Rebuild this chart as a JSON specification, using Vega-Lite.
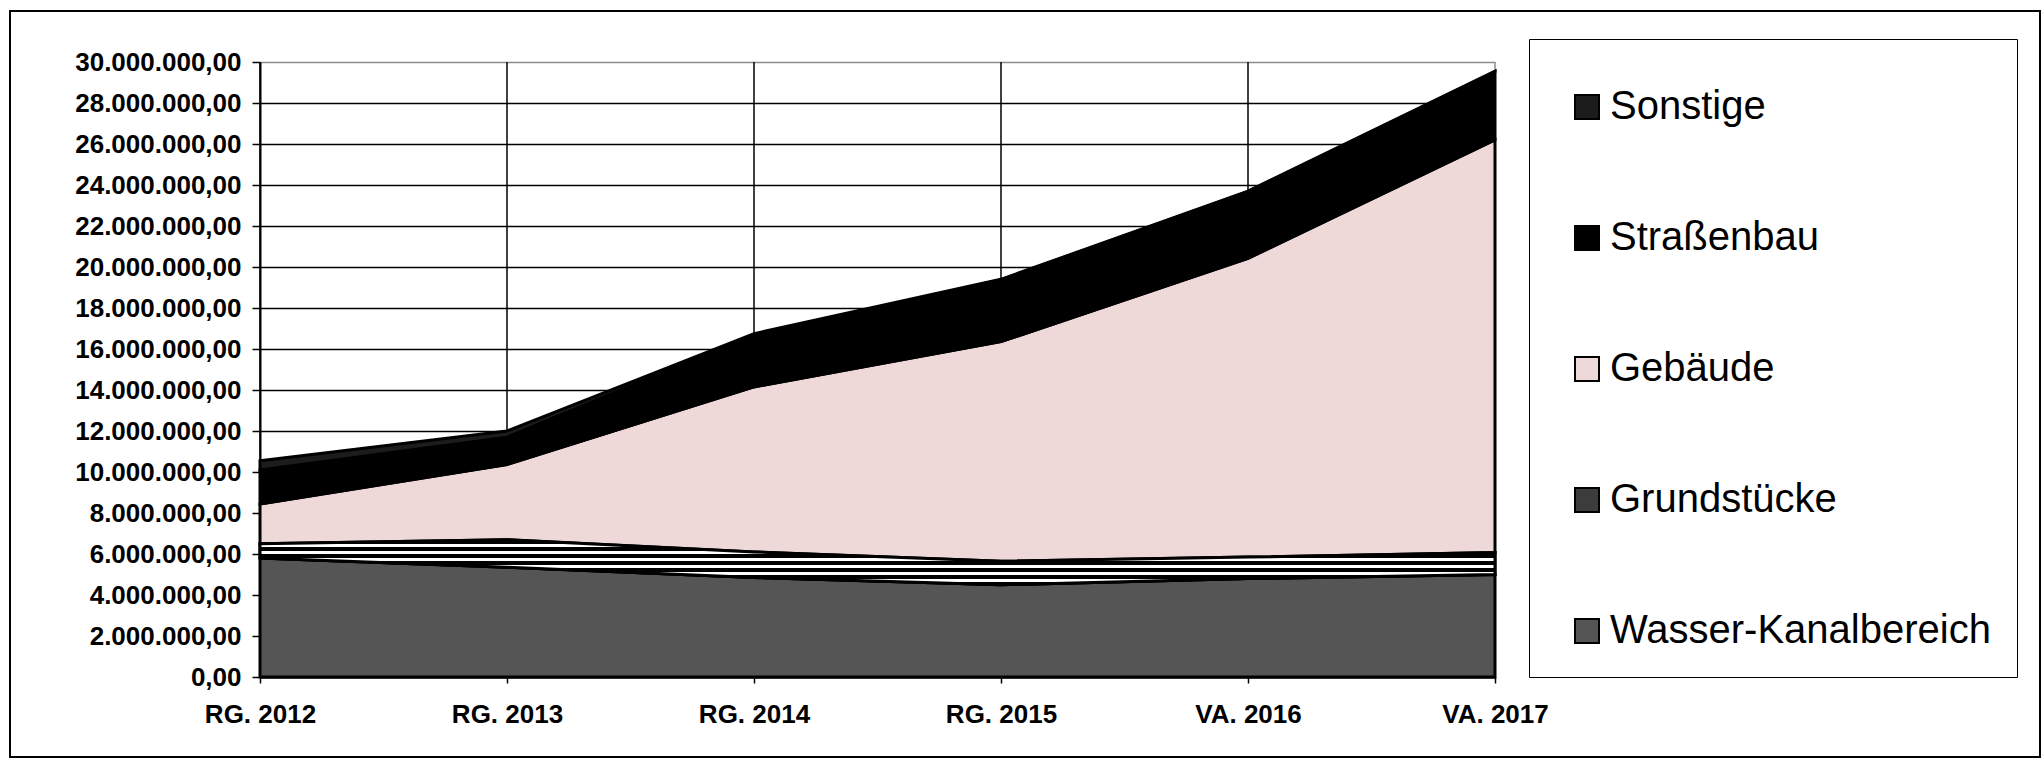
{
  "$schema": "https://vega.github.io/schema/vega-lite/v6.json",
  "width": 2030,
  "height": 746,
  "autosize": {"type": "none"},
  "padding": {"left": 10, "top": 11, "right": 4, "bottom": 5},
  "background": "white",
  "config": {
    "locale": {"number": {"decimal": ",", "thousands": ".", "grouping": [3], "currency": ["", " €"]}},
    "view": {"stroke": "black", "strokeWidth": 2, "fill": "white"},
    "font": "Liberation Sans"
  },
  "data": {
    "values": [
      {"Jahr": "RG. 2012", "Kategorie": "Wasser-Kanalbereich", "Wert": 5800000},
      {"Jahr": "RG. 2013", "Kategorie": "Wasser-Kanalbereich", "Wert": 5350000},
      {"Jahr": "RG. 2014", "Kategorie": "Wasser-Kanalbereich", "Wert": 4850000},
      {"Jahr": "RG. 2015", "Kategorie": "Wasser-Kanalbereich", "Wert": 4500000},
      {"Jahr": "VA. 2016", "Kategorie": "Wasser-Kanalbereich", "Wert": 4800000},
      {"Jahr": "VA. 2017", "Kategorie": "Wasser-Kanalbereich", "Wert": 5000000},
      {"Jahr": "RG. 2012", "Kategorie": "Grundstücke", "Wert": 700000},
      {"Jahr": "RG. 2013", "Kategorie": "Grundstücke", "Wert": 1350000},
      {"Jahr": "RG. 2014", "Kategorie": "Grundstücke", "Wert": 1250000},
      {"Jahr": "RG. 2015", "Kategorie": "Grundstücke", "Wert": 1150000},
      {"Jahr": "VA. 2016", "Kategorie": "Grundstücke", "Wert": 1050000},
      {"Jahr": "VA. 2017", "Kategorie": "Grundstücke", "Wert": 1070000},
      {"Jahr": "RG. 2012", "Kategorie": "Gebäude", "Wert": 1940000},
      {"Jahr": "RG. 2013", "Kategorie": "Gebäude", "Wert": 3670000},
      {"Jahr": "RG. 2014", "Kategorie": "Gebäude", "Wert": 8050000},
      {"Jahr": "RG. 2015", "Kategorie": "Gebäude", "Wert": 10710000},
      {"Jahr": "VA. 2016", "Kategorie": "Gebäude", "Wert": 14570000},
      {"Jahr": "VA. 2017", "Kategorie": "Gebäude", "Wert": 20130000},
      {"Jahr": "RG. 2012", "Kategorie": "Straßenbau", "Wert": 1660000},
      {"Jahr": "RG. 2013", "Kategorie": "Straßenbau", "Wert": 1330000},
      {"Jahr": "RG. 2014", "Kategorie": "Straßenbau", "Wert": 2550000},
      {"Jahr": "RG. 2015", "Kategorie": "Straßenbau", "Wert": 3020000},
      {"Jahr": "VA. 2016", "Kategorie": "Straßenbau", "Wert": 3260000},
      {"Jahr": "VA. 2017", "Kategorie": "Straßenbau", "Wert": 3330000},
      {"Jahr": "RG. 2012", "Kategorie": "Sonstige", "Wert": 450000},
      {"Jahr": "RG. 2013", "Kategorie": "Sonstige", "Wert": 300000},
      {"Jahr": "RG. 2014", "Kategorie": "Sonstige", "Wert": 50000},
      {"Jahr": "RG. 2015", "Kategorie": "Sonstige", "Wert": 20000},
      {"Jahr": "VA. 2016", "Kategorie": "Sonstige", "Wert": 20000},
      {"Jahr": "VA. 2017", "Kategorie": "Sonstige", "Wert": 20000}
    ]
  },
  "transform": [
    {"calculate": "indexof(['Wasser-Kanalbereich','Grundstücke','Gebäude','Straßenbau','Sonstige'], datum.Kategorie)", "as": "rang"},
    {"stack": "Wert", "groupby": ["Jahr"], "sort": [{"field": "rang", "order": "ascending"}], "as": ["y0", "y1"]}
  ],
  "encoding": {
    "x": {
      "field": "Jahr",
      "type": "ordinal",
      "sort": ["RG. 2012", "RG. 2013", "RG. 2014", "RG. 2015", "VA. 2016", "VA. 2017"],
      "scale": {"type": "point", "padding": 0, "range": [250, 1485]},
      "axis": {
        "title": null,
        "offset": -80,
        "labelAngle": 0,
        "labelFont": "Liberation Sans",
        "labelFontWeight": "bold",
        "labelFontSize": 26,
        "labelColor": "black",
        "labelPadding": 18,
        "tickSize": 6,
        "tickColor": "black",
        "tickWidth": 1.5,
        "domainColor": "black",
        "domainWidth": 2,
        "grid": false
      }
    }
  },
  "layer": [
    {
      "transform": [{"filter": "datum.Kategorie === 'Sonstige'"}],
      "mark": {"type": "rule", "strokeWidth": 1.5},
      "encoding": {
        "y": {
          "datum": 0,
          "type": "quantitative",
          "scale": {"domain": [0, 30000000], "nice": false, "range": [666, 51]},
          "axis": {
            "title": null,
            "offset": -250,
            "values": [0, 2000000, 4000000, 6000000, 8000000, 10000000, 12000000, 14000000, 16000000, 18000000, 20000000, 22000000, 24000000, 26000000, 28000000, 30000000],
            "format": ",.2f",
            "labelFont": "Liberation Sans",
            "labelFontWeight": "bold",
            "labelFontSize": 26,
            "labelColor": "black",
            "labelPadding": 11,
            "tickSize": 8,
            "tickColor": "black",
            "tickWidth": 1.5,
            "domainColor": "black",
            "domainWidth": 2,
            "grid": true,
            "gridColor": {"condition": {"test": "datum.value === 30000000", "value": "#8c8c8c"}, "value": "black"},
            "gridWidth": 1.5,
            "gridOpacity": 1
          }
        },
        "y2": {"datum": 30000000},
        "stroke": {"condition": {"test": "datum.Jahr === 'VA. 2017'", "value": "#8c8c8c"}, "value": "black"}
      }
    },
    {
      "mark": {"type": "area", "stroke": "black", "strokeWidth": 3, "strokeJoin": "miter", "interpolate": "linear", "opacity": 1, "fillOpacity": 1},
      "encoding": {
        "y": {"field": "y1", "type": "quantitative"},
        "y2": {"field": "y0"},
        "fill": {
          "field": "Kategorie",
          "type": "nominal",
          "scale": {
            "domain": ["Sonstige", "Straßenbau", "Gebäude", "Grundstücke", "Wasser-Kanalbereich"],
            "range": ["#1c1c1c", "#000000", "#eed8d8", "#3c3c3c", "#555555"]
          },
          "legend": {
            "title": " ",
            "titleFontSize": 12,
            "titlePadding": 10,
            "orient": "none",
            "legendX": 1519,
            "legendY": 28,
            "padding": 26,
            "strokeColor": "black",
            "fillColor": "white",
            "symbolType": "square",
            "symbolSize": 576,
            "symbolStrokeColor": "black",
            "symbolStrokeWidth": 2,
            "symbolOpacity": 1,
            "symbolOffset": 12,
            "labelOffset": 3,
            "rowPadding": 91,
            "labelFont": "Liberation Sans",
            "labelFontSize": 40,
            "labelColor": "black",
            "labelLimit": 800
          }
        }
      }
    },
    {
      "transform": [{"filter": "datum.Kategorie === 'Grundstücke'"}],
      "mark": {
        "type": "area",
        "stroke": "black",
        "strokeWidth": 3,
        "strokeJoin": "miter",
        "interpolate": "linear",
        "fill": {
          "gradient": "linear",
          "x1": 0, "y1": 0, "x2": 0, "y2": 1,
          "stops": [
            {"offset": 0, "color": "black"}, {"offset": 0.09, "color": "black"},
            {"offset": 0.09, "color": "white"}, {"offset": 0.155, "color": "white"},
            {"offset": 0.155, "color": "black"}, {"offset": 0.245, "color": "black"},
            {"offset": 0.245, "color": "white"}, {"offset": 0.31, "color": "white"},
            {"offset": 0.31, "color": "black"}, {"offset": 0.4, "color": "black"},
            {"offset": 0.4, "color": "white"}, {"offset": 0.465, "color": "white"},
            {"offset": 0.465, "color": "black"}, {"offset": 0.555, "color": "black"},
            {"offset": 0.555, "color": "white"}, {"offset": 0.62, "color": "white"},
            {"offset": 0.62, "color": "black"}, {"offset": 0.71, "color": "black"},
            {"offset": 0.71, "color": "white"}, {"offset": 0.775, "color": "white"},
            {"offset": 0.775, "color": "black"}, {"offset": 0.865, "color": "black"},
            {"offset": 0.865, "color": "white"}, {"offset": 0.93, "color": "white"},
            {"offset": 0.93, "color": "black"}, {"offset": 1, "color": "black"}
          ]
        }
      },
      "encoding": {
        "y": {"field": "y1", "type": "quantitative"},
        "y2": {"field": "y0"}
      }
    }
  ]
}
